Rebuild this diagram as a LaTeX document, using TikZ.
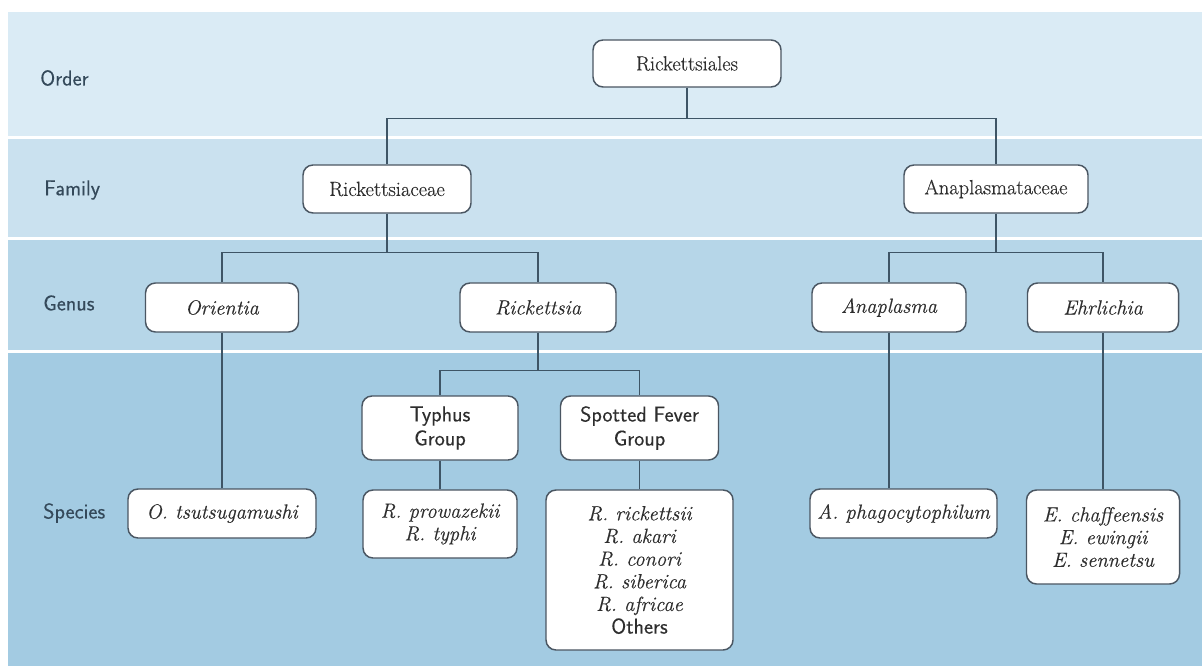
\documentclass[tikz,border=0pt]{standalone}
\usepackage{fontspec}
\setmainfont{Latin Modern Roman}[FakeBold=0.35]
\setsansfont{Latin Modern Sans}[FakeBold=0.25]
\definecolor{bandA}{HTML}{DAEBF5}
\definecolor{bandB}{HTML}{CAE1EF}
\definecolor{bandC}{HTML}{B6D6E8}
\definecolor{bandD}{HTML}{A3CBE2}
\definecolor{boxline}{HTML}{4A5662}
\definecolor{connline}{HTML}{3E5566}
\definecolor{nodetext}{HTML}{2E2E2E}
\definecolor{labtext}{HTML}{34495A}
\newcommand\myfs{\fontsize{15.4}{17}\selectfont}
\newcommand\mysf{\fontsize{16.2}{18}\selectfont}
\tikzset{
  box/.style={draw=boxline, line width=1.1pt, rounded corners=7.5pt, fill=white,
    align=center, inner sep=0pt, text=nodetext, font=\myfs},
  grp/.style={font=\sffamily\mysf},
  conn/.style={draw=connline, line width=1.1pt},
  lab/.style={anchor=west, text=labtext, font=\sffamily\mysf, inner sep=0pt}
}
\begin{document}
\begin{tikzpicture}[x=0.75pt,y=-0.75pt]
\useasboundingbox (0,0) rectangle (1202,666);
\fill[white] (0,0) rectangle (1202,666);
% bands
\fill[bandA] (8,12) rectangle (1202,136);
\fill[bandB] (8,139) rectangle (1202,237);
\fill[bandC] (8,240) rectangle (1202,350);
\fill[bandD] (8,353) rectangle (1202,666);
% row labels
\node[lab] (lorder) at (40,78) {Order};
\node[lab] (lfamily) at (44,190) {Family};
\node[lab] (lgenus) at (43,303) {Genus};
\node[lab] (lspecies) at (43,513) {Species};
% order
\node[box, minimum width=141pt, minimum height=35.25pt] (ord) at (687,63.5) {Rickettsiales};
% family
\node[box, minimum width=126pt, minimum height=36pt] (fam1) at (387,189) {Rickettsiaceae};
\node[box, minimum width=138pt, minimum height=36pt] (fam2) at (996,189) {Anaplasmataceae};
% genus
\node[box, minimum width=114.75pt, minimum height=36.75pt] (orie) at (222,307.5) {\itshape Orientia};
\node[box, minimum width=117pt, minimum height=36.75pt] (rick) at (538,307.5) {\itshape Rickettsia};
\node[box, minimum width=115.5pt, minimum height=36.75pt] (anap) at (889,307.5) {\itshape Anaplasma};
\node[box, minimum width=113.25pt, minimum height=36.75pt] (ehrl) at (1103,307.5) {\itshape Ehrlichia};
% groups
\node[box, grp, minimum width=117pt, minimum height=48pt] (typh) at (440,428) {Typhus\\Group};
\node[box, grp, minimum width=118.5pt, minimum height=48pt] (spot) at (639.5,428) {Spotted Fever\\Group};
% species
\node[box, minimum width=141pt, minimum height=36.75pt] (otsu) at (222,513.5) {\itshape O. tsutsugamushi};
\node[box, minimum width=115.5pt, minimum height=51pt] (rprow) at (440,524) {\itshape R. prowazekii\\\itshape R. typhi};
\node[box, minimum width=140.25pt, minimum height=120pt] (rspot) at (639.5,570) {\itshape R. rickettsii\\\itshape R. akari\\\itshape R. conori\\\itshape R. siberica\\\itshape R. africae\\\sffamily\mysf Others};
\node[box, minimum width=140.25pt, minimum height=36.75pt] (aphag) at (903.5,513.5) {\itshape A. phagocytophilum};
\node[box, minimum width=114.75pt, minimum height=70.5pt] (espec) at (1103,537) {\itshape E. chaffeensis\\\itshape E. ewingii\\\itshape E. sennetsu};
% connectors
\path (ord.south) ++(0,31) coordinate (j1);
\draw[conn] (ord.south) -- (j1);
\draw[conn] (fam1.north) |- (j1) -| (fam2.north);
\path (fam1.south) ++(0,39) coordinate (j2);
\draw[conn] (fam1.south) -- (j2);
\draw[conn] (orie.north) |- (j2) -| (rick.north);
\path (fam2.south) ++(0,39) coordinate (j3);
\draw[conn] (fam2.south) -- (j3);
\draw[conn] (anap.north) |- (j3) -| (ehrl.north);
\path (rick.south) ++(0,38) coordinate (j4);
\draw[conn] (rick.south) -- (j4);
\draw[conn] (typh.north) |- (j4) -| (spot.north);
\draw[conn] (orie.south) -- (orie.south |- otsu.north);
\draw[conn] (typh.south) -- (rprow.north);
\draw[conn] (spot.south) -- (rspot.north);
\draw[conn] (anap.south) -- (anap.south |- aphag.north);
\draw[conn] (ehrl.south) -- (espec.north);
\end{tikzpicture}
\end{document}
